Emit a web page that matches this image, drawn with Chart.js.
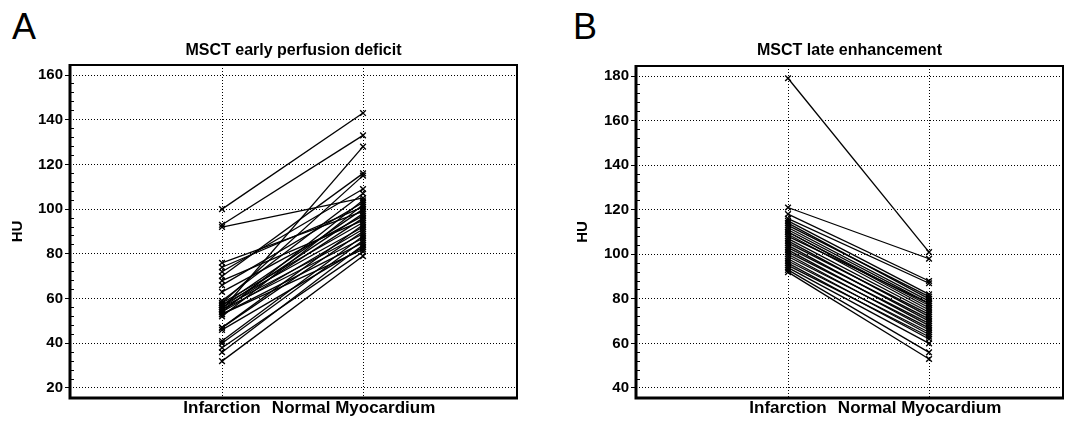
<!DOCTYPE html>
<html>
<head>
<meta charset="utf-8">
<script src="https://cdn.jsdelivr.net/npm/chart.js@4.4.1/dist/chart.umd.min.js"></script>
<style>
  body { margin: 0; background: #fff; width: 1070px; height: 424px; position: relative; overflow: hidden; }
  .panel { position: absolute; top: 0; width: 535px; height: 424px; }
  .letter { position: absolute; top: 9px; font: 36px/36px "Liberation Sans", Arial, sans-serif; color: #000; }
</style>
</head>
<body>
<div class="letter" style="left:12px">A</div>
<div class="letter" style="left:573px">B</div>
<div class="panel" style="left:0"><canvas id="chartA" width="535" height="424"></canvas></div>
<div class="panel" style="left:535px"><canvas id="chartB" width="535" height="424"></canvas></div>
<script>
const categories = ['Infarction', 'Normal Myocardium'];

// panel A: early perfusion deficit (HU), one pair per patient
const infarctA = [100, 93, 92, 76, 74, 72, 70, 68, 66, 63, 59, 58, 58, 57, 57, 56, 56, 55, 55, 55, 54, 54, 53, 52, 47, 47, 46, 41, 40, 38, 36, 32, 53];
const normalA  = [143, 133, 105, 99, 101, 109, 116, 95, 103, 97, 107, 115, 94, 100, 92, 98, 89, 128, 96, 87, 104, 91, 85, 102, 93, 90, 83, 88, 86, 81, 84, 79, 82];
const ticksA = [20, 40, 60, 80, 100, 120, 140, 160];

// panel B: late enhancement (HU)
const infarctB = [179, 121, 118, 116, 115, 114, 113, 112, 111, 110, 110, 109, 108, 107, 106, 105, 104, 103, 102, 101, 100, 99, 98, 97, 96, 95, 94, 93, 92];
const normalB  = [101, 98, 88, 87, 82, 80, 81, 79, 78, 77, 76, 75, 78, 74, 72, 73, 70, 71, 68, 69, 66, 67, 64, 65, 62, 63, 60, 56, 53];
const ticksB = [40, 60, 80, 100, 120, 140, 160, 180];

const FONT = '"Liberation Sans", Arial, sans-serif';

// thick box round the plot area
const framePlugin = {
  id: 'frame',
  afterDraw(chart) {
    const { ctx, chartArea: a } = chart;
    ctx.save();
    ctx.strokeStyle = '#000';
    ctx.lineWidth = 2;
    ctx.strokeRect(a.left, a.top, a.right - a.left, a.bottom - a.top);
    ctx.lineWidth = 3;
    ctx.beginPath();
    ctx.moveTo(a.left, a.top - 1);
    ctx.lineTo(a.left, a.bottom);
    ctx.lineTo(a.right + 1, a.bottom);
    ctx.stroke();
    ctx.restore();
  }
};

function minorTicks(major) {
  const out = [];
  for (let v = major[0]; v <= major[major.length - 1]; v += 4) {
    if (v % 20 !== 0) out.push(v);
  }
  return out;
}

function makeChart(id, title, infarct, normal, majors, opt) {
  const datasets = infarct.map((v, i) => ({
    data: [{ x: 1, y: v }, { x: 2, y: normal[i] }],
    showLine: true,
    borderColor: '#000',
    borderWidth: 1.3,
    pointStyle: 'crossRot',
    pointRadius: 4,
    pointBorderColor: '#000',
    pointBorderWidth: 1.4,
    pointBackgroundColor: '#000'
  }));
  const minors = minorTicks(majors);

  return new Chart(document.getElementById(id), {
    type: 'scatter',
    data: { datasets },
    options: {
      responsive: false,
      animation: false,
      devicePixelRatio: 1,
      layout: { padding: { left: opt.padLeft, right: opt.padRight, top: 0, bottom: 0 } },
      plugins: {
        legend: { display: false },
        tooltip: { enabled: false },
        title: {
          display: true,
          text: title,
          fullSize: false,
          color: '#000',
          font: { family: FONT, size: 16, weight: 'bold' },
          padding: { top: 41.4, bottom: opt.titleBottom }
        }
      },
      scales: {
        x: {
          type: 'linear',
          min: opt.xMin,
          max: opt.xMax,
          afterBuildTicks: s => { s.ticks = [1, 2].map(v => ({ value: v })); },
          afterFit: s => { s.height = 26; },
          ticks: {
            // the second label sits a little left of its gridline in the original
            callback: (v, i) => i === 1 ? categories[i] + '\u00a0\u00a0\u00a0\u00a0' : categories[i],
            color: '#000',
            font: { family: FONT, size: 17, weight: 'bold' },
            padding: 0,
            maxRotation: 0,
            autoSkip: false
          },
          grid: { color: '#000', lineWidth: 1, drawTicks: false },
          border: { display: false, dash: [1, 2] }
        },
        y: {
          type: 'linear',
          position: 'left',
          weight: 2,
          min: opt.yMin,
          max: opt.yMax,
          afterBuildTicks: s => { s.ticks = majors.map(v => ({ value: v })); },
          afterFit: s => { s.width = opt.axisWidth; },
          ticks: {
            color: '#000',
            font: { family: FONT, size: 15, weight: 'bold' },
            padding: 2
          },
          grid: { color: '#000', lineWidth: 1, tickLength: 5, tickColor: '#000' },
          border: { display: false, dash: [1, 2] },
          title: {
            display: true,
            text: 'HU',
            color: '#000',
            font: { family: FONT, size: 15, weight: 'bold' },
            padding: { top: opt.huPad, bottom: 0 }
          }
        },
        yMinor: {
          type: 'linear',
          position: 'left',
          weight: 1,
          min: opt.yMin,
          max: opt.yMax,
          afterBuildTicks: s => { s.ticks = minors.map(v => ({ value: v })); },
          afterFit: s => { s.width = 0; },
          ticks: { display: false },
          grid: { drawOnChartArea: false, tickLength: -4, tickColor: '#000', lineWidth: 1 },
          border: { display: false }
        }
      }
    },
    plugins: [framePlugin]
  });
}

makeChart('chartA', 'MSCT early perfusion deficit', infarctA, normalA, ticksA, {
  padLeft: 0, padRight: 18, axisWidth: 70, huPad: 9, titleBottom: 4.4,
  xMin: -0.078, xMax: 3.092, yMin: 15.5, yMax: 164.5
});

makeChart('chartB', 'MSCT late enhancement', infarctB, normalB, ticksB, {
  padLeft: 30, padRight: 7, axisWidth: 71, huPad: 8.5, titleBottom: 5.4,
  xMin: -0.078, xMax: 2.95, yMin: 35.5, yMax: 184.5
});
</script>
</body>
</html>
